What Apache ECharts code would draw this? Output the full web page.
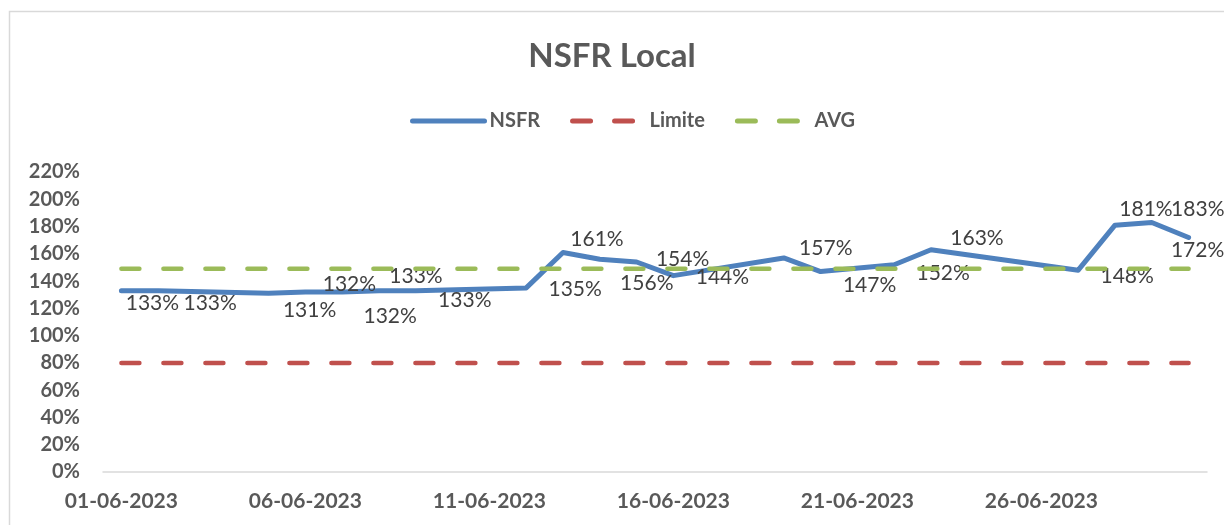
<!DOCTYPE html>
<html>
<head>
<meta charset="utf-8">
<script src="https://cdn.jsdelivr.net/npm/echarts@6/dist/echarts.min.js"></script>
<style>
  html, body { margin: 0; padding: 0; background: #fff; }
  #main { width: 1224px; height: 525px; }
</style>
</head>
<body>
<div id="main"></div>
<script>
// June 2023, one category per day (gaps are weekends / missing days)
const dates = [];
for (let d = 1; d <= 30; d++) {
  dates.push((d < 10 ? '0' + d : '' + d) + '-06-2023');
}

// NSFR in %, null where there is no observation
const nsfr = [
  133, 133, null, null, 131, 132, 132, 133, 133, null,
  null, 135, 161, 156, 154, 144, null, null, 157, 147,
  null, 152, 163, null, null, null, 148, 181, 183, 172
];
const limiteValue = 80;
const avgValue = 149;

// where each data label sits relative to its point [dx, dy]
const labelOffsets = {
  0: [31, 13], 1: [52, 13], 4: [41, 17], 5: [44, -8], 6: [48, 24],
  7: [37, -14], 8: [49, 10], 11: [49, 1], 12: [34, -13], 13: [47, 24],
  14: [46, -3], 15: [49, 2], 18: [42, -10], 19: [49, 14], 21: [49, 9],
  22: [46, -11], 26: [49, 6], 27: [31, -16], 28: [46, -13], 29: [9, 13]
};

const nsfrData = nsfr.map((v, i) => {
  if (v === null) return null;
  return {
    value: v,
    label: { offset: labelOffsets[i] || [0, -14] }
  };
});

const font = 'Lato, "Open Sans", sans-serif';
const grey = '#595959';

var myChart = echarts.init(document.getElementById('main'));

var option = {
  backgroundColor: '#fff',
  animation: false,
  textStyle: { fontFamily: font },
  title: {
    text: 'NSFR Local',
    left: 'center',
    top: 35,
    textStyle: { fontFamily: font, fontSize: 33, fontWeight: 'bold', color: grey }
  },
  legend: {
    top: 106,
    left: 405,
    itemWidth: 72,
    itemHeight: 20,
    itemGap: 30,
    itemStyle: { opacity: 0 },
    lineStyle: { width: 5 },
    textStyle: { fontFamily: font, fontSize: 20, fontWeight: 'bold', color: grey },
    data: ['NSFR', 'Limite', 'AVG']
  },
  graphic: [{
    type: 'rect',
    shape: { x: 9.5, y: 11.5, width: 1400, height: 700 },
    style: { fill: 'none', stroke: '#D9D9D9', lineWidth: 1.5 },
    silent: true
  }],
  grid: { left: 103, right: 17, top: 172, bottom: 53 },
  xAxis: {
    type: 'category',
    data: dates,
    boundaryGap: true,
    axisLine: { lineStyle: { color: '#D9D9D9', width: 1.5 } },
    axisTick: { show: false },
    axisLabel: {
      interval: 4,
      margin: 19,
      fontFamily: font,
      fontSize: 21,
      fontWeight: 'bold',
      color: grey
    }
  },
  yAxis: {
    type: 'value',
    min: 0,
    max: 220,
    interval: 20,
    splitLine: { show: false },
    axisLine: { show: false },
    axisTick: { show: false },
    axisLabel: {
      formatter: '{value}%',
      margin: 23,
      fontFamily: font,
      fontSize: 20,
      fontWeight: 'bold',
      color: grey
    }
  },
  series: [
    {
      name: 'NSFR',
      type: 'line',
      data: nsfrData,
      connectNulls: true,
      symbol: 'circle',
      symbolSize: 0,
      showSymbol: true,
      color: '#4F81BD',
      lineStyle: { color: '#4F81BD', width: 5, cap: 'round', join: 'round' },
      label: {
        show: true,
        position: 'inside',
        formatter: '{c}%',
        fontFamily: font,
        fontSize: 21,
        color: '#404040'
      },
      z: 2
    },
    {
      name: 'Limite',
      type: 'line',
      data: dates.map(() => limiteValue),
      symbol: 'none',
      color: '#C0504D',
      lineStyle: { color: '#C0504D', width: 4.5, type: [18, 24], cap: 'round' },
      z: 3
    },
    {
      name: 'AVG',
      type: 'line',
      data: dates.map(() => avgValue),
      symbol: 'none',
      color: '#9BBB59',
      lineStyle: { color: '#9BBB59', width: 4.5, type: [18, 24], cap: 'round' },
      z: 3
    }
  ]
};

myChart.setOption(option);
</script>
</body>
</html>
